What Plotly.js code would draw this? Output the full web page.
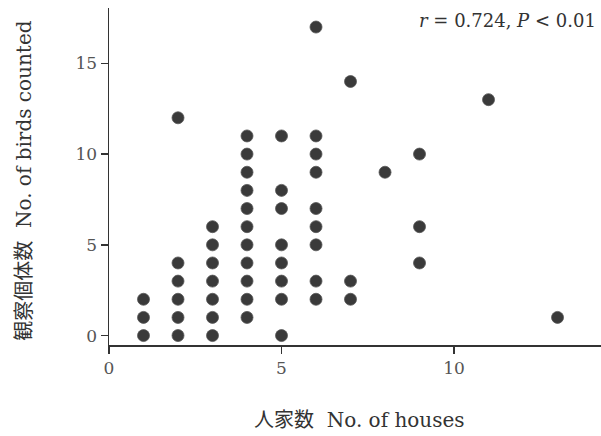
<!DOCTYPE html>
<html>
<head>
<meta charset="utf-8">
<script src="https://cdn.plot.ly/plotly-3.0.1.min.js"></script>
<style>html,body{margin:0;padding:0;background:#fff;}#chart{width:601px;height:436px;}</style>
</head>
<body>
<div id="chart"></div>
<script>
// Number of houses (x) and number of birds counted (y), one entry per survey point
const houses = [
  1, 1, 1,
  2, 2, 2, 2, 2, 2,
  3, 3, 3, 3, 3, 3, 3,
  4, 4, 4, 4, 4, 4, 4, 4, 4, 4, 4,
  5, 5, 5, 5, 5, 5, 5, 5,
  6, 6, 6, 6, 6, 6, 6, 6, 6,
  7, 7, 7,
  8,
  9, 9, 9,
  11,
  13
];
const birds = [
  0, 1, 2,
  0, 1, 2, 3, 4, 12,
  0, 1, 2, 3, 4, 5, 6,
  1, 2, 3, 4, 5, 6, 7, 8, 9, 10, 11,
  0, 2, 3, 4, 5, 7, 8, 11,
  2, 3, 5, 6, 7, 9, 10, 11, 17,
  2, 3, 14,
  9,
  4, 6, 10,
  13,
  1
];
const xTicks = [0, 5, 10];
const yTicks = [0, 5, 10, 15];
const xTitle = '人家数  No. of houses';
const yTitle = '観察個体数  No. of birds counted';
const statText = '<i>r</i> = 0.724, <i>P</i> &lt; 0.01';

const fontFam = '"DejaVu Serif", "Noto Sans CJK JP", serif';

const trace = {
  x: houses, y: birds, type: 'scatter', mode: 'markers',
  marker: {size: 12, color: '#3a3a3a', line: {color: '#555', width: 0.8}},
  hoverinfo: 'skip'
};

const layout = {
  width: 601, height: 436,
  margin: {l: 109, r: 0, t: 8, b: 91, pad: 0},
  paper_bgcolor: '#fff', plot_bgcolor: '#fff',
  showlegend: false,
  font: {family: fontFam, color: '#444', size: 18},
  xaxis: {
    range: [0, 14.26], tickvals: xTicks, ticktext: xTicks.map(String),
    showgrid: false, zeroline: false, showline: true, linecolor: '#333', linewidth: 1.5,
    ticks: 'outside', ticklen: 7, tickwidth: 1.5, tickcolor: '#333',
    tickfont: {family: fontFam, size: 17, color: '#555'}
  },
  yaxis: {
    range: [-0.52, 18.05], tickvals: yTicks, ticktext: yTicks.map(String),
    showgrid: false, zeroline: false, showline: true, linecolor: '#333', linewidth: 1.5,
    ticks: 'outside', ticklen: 7, tickwidth: 1.5, tickcolor: '#333',
    tickfont: {family: fontFam, size: 17, color: '#555'}
  },
  annotations: [
    {text: statText, xref: 'paper', yref: 'paper', x: 0.994, y: 0.964,
     xanchor: 'right', yanchor: 'middle', showarrow: false,
     font: {family: fontFam, size: 18, color: '#333'}},
    {text: xTitle, xref: 'paper', yref: 'paper', x: 0.51, y: -0.2226,
     xanchor: 'center', yanchor: 'middle', showarrow: false,
     font: {family: fontFam, size: 20, color: '#333'}},
    {text: yTitle, xref: 'paper', yref: 'paper', x: -0.173, y: 0.487, textangle: -90,
     xanchor: 'center', yanchor: 'middle', showarrow: false,
     font: {family: fontFam, size: 20, color: '#333'}}
  ]
};

Plotly.newPlot('chart', [trace], layout, {staticPlot: true, displayModeBar: false});
</script>
</body>
</html>
